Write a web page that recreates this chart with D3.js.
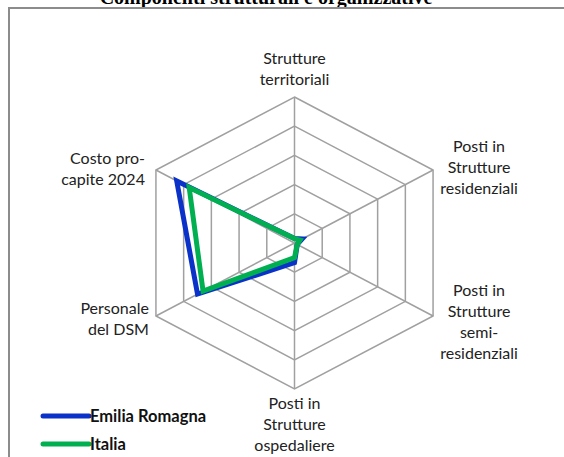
<!DOCTYPE html>
<html>
<head>
<meta charset="utf-8">
<script src="https://cdn.jsdelivr.net/npm/d3@7/dist/d3.min.js"></script>
<style>
  html, body { margin: 0; padding: 0; background: #fff; }
  svg { display: block; }
</style>
</head>
<body>
<svg id="chart" width="564" height="457"></svg>
<script>
// axes, clockwise from the top
const categories = [
  ['Strutture', 'territoriali'],
  ['Posti in', 'Strutture', 'residenziali'],
  ['Posti in', 'Strutture', 'semi-', 'residenziali'],
  ['Posti in', 'Strutture', 'ospedaliere'],
  ['Personale', 'del DSM'],
  ['Costo pro-', 'capite 2024']
]
const seriesNames = ['Emilia Romagna', 'Italia']
const emiliaRomagna = [3, 5.5, 2, 13.5, 70, 85]
const italia = [3, 4, 2, 10, 66, 76]
const ringTicks = [20, 40, 60, 80, 100]

const colors = ['#0a32c8', '#00b050']
const W = 564, H = 457
const cx = 294.5, cy = 243
const svg = d3.select('#chart')

// frame + clipped title
svg.append('text')
  .attr('x', 266).attr('y', 4)
  .attr('text-anchor', 'middle')
  .attr('font-family', 'Liberation Serif, Times New Roman, serif')
  .attr('font-weight', 'bold')
  .attr('font-size', 20)
  .attr('fill', '#000')
  .text('Componenti strutturali e organizzative')

svg.append('rect')
  .attr('x', 9).attr('y', 8)
  .attr('width', W + 20).attr('height', H + 20)
  .attr('fill', 'none')
  .attr('stroke', '#8c8c8c')
  .attr('stroke-width', 2)

// the plot is a bit wider than tall, so two radial scales
const rX = d3.scaleLinear().domain([0, 100]).range([0, 160])
const rY = d3.scaleLinear().domain([0, 100]).range([0, 146])
const angle = d3.scaleLinear().domain([0, categories.length]).range([0, 2 * Math.PI])

const px = (v, i) => cx + rX(v) * Math.sin(angle(i))
const py = (v, i) => cy - rY(v) * Math.cos(angle(i))

const grid = svg.append('g').attr('class', 'grid')
ringTicks.forEach(t => {
  const pts = categories.map((c, i) => [px(t, i), py(t, i)])
  grid.append('polygon')
    .attr('points', pts.map(p => p.join(',')).join(' '))
    .attr('fill', 'none')
    .attr('stroke', '#a0a0a0')
    .attr('stroke-width', 1.5)
})
categories.forEach((c, i) => {
  grid.append('line')
    .attr('x1', cx).attr('y1', cy)
    .attr('x2', px(100, i)).attr('y2', py(100, i))
    .attr('stroke', '#a0a0a0')
    .attr('stroke-width', 1.5)
})

// category labels
const lineH = 21
const labelPos = [
  { dx: 0, dy: -12, anchor: 'middle', v: 'bottom' },
  { dx: 46, dy: -2, anchor: 'middle', v: 'center' },
  { dx: 46, dy: 6, anchor: 'middle', v: 'center' },
  { dx: 0, dy: 20, anchor: 'middle', v: 'top' },
  { dx: -7, dy: 3, anchor: 'end', v: 'center' },
  { dx: -11, dy: -1, anchor: 'end', v: 'center' }
]
const labels = svg.append('g')
  .attr('font-family', 'Lato, Open Sans, sans-serif')
  .attr('font-size', 16)
  .attr('fill', '#222')
categories.forEach((lines, i) => {
  const lp = labelPos[i]
  const x = px(100, i) + lp.dx
  let y0
  if (lp.v === 'bottom') y0 = py(100, i) + lp.dy - (lines.length - 1) * lineH
  else if (lp.v === 'top') y0 = py(100, i) + lp.dy
  else y0 = py(100, i) + lp.dy - (lines.length - 1) * lineH / 2 + 5
  const t = labels.append('text')
    .attr('text-anchor', lp.anchor)
  lines.forEach((ln, k) => {
    t.append('tspan').attr('x', x).attr('y', y0 + k * lineH).text(ln)
  })
})

// series
const line = d3.line().curve(d3.curveLinearClosed)
;[emiliaRomagna, italia].forEach((vals, s) => {
  svg.append('path')
    .attr('d', line(vals.map((v, i) => [px(v, i), py(v, i)])))
    .attr('fill', 'none')
    .attr('stroke', colors[s])
    .attr('stroke-width', 5)
    .attr('stroke-linejoin', 'miter')
})

// legend
const legend = svg.append('g')
seriesNames.forEach((name, s) => {
  const y = 416 + s * 28
  legend.append('line')
    .attr('x1', 43).attr('x2', 89)
    .attr('y1', y).attr('y2', y)
    .attr('stroke', colors[s])
    .attr('stroke-width', 5)
    .attr('stroke-linecap', 'round')
  legend.append('text')
    .attr('x', 90).attr('y', y + 5.5)
    .attr('font-family', 'Lato, Open Sans, sans-serif')
    .attr('font-weight', 'bold')
    .attr('font-size', 16.5)
    .attr('fill', '#111')
    .text(name)
})
</script>
</body>
</html>
